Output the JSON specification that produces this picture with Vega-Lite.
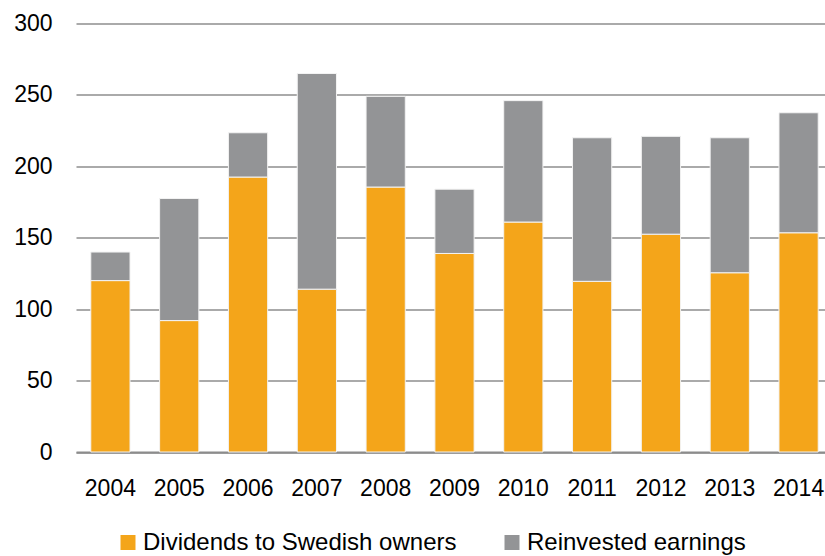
{
  "$schema": "https://vega.github.io/schema/vega-lite/v6.json",
  "autosize": {"type": "none"},
  "padding": {"left": 76, "top": 23.5, "right": 0, "bottom": 104},
  "width": 757,
  "height": 428.5,
  "background": "white",
  "data": {
    "values": [
      {"year": "2004", "series": "Dividends to Swedish owners", "value": 120},
      {"year": "2004", "series": "Reinvested earnings", "value": 20},
      {"year": "2005", "series": "Dividends to Swedish owners", "value": 92},
      {"year": "2005", "series": "Reinvested earnings", "value": 85.5},
      {"year": "2006", "series": "Dividends to Swedish owners", "value": 192.5},
      {"year": "2006", "series": "Reinvested earnings", "value": 31},
      {"year": "2007", "series": "Dividends to Swedish owners", "value": 114},
      {"year": "2007", "series": "Reinvested earnings", "value": 151},
      {"year": "2008", "series": "Dividends to Swedish owners", "value": 185.5},
      {"year": "2008", "series": "Reinvested earnings", "value": 63.5},
      {"year": "2009", "series": "Dividends to Swedish owners", "value": 139},
      {"year": "2009", "series": "Reinvested earnings", "value": 45},
      {"year": "2010", "series": "Dividends to Swedish owners", "value": 161},
      {"year": "2010", "series": "Reinvested earnings", "value": 85},
      {"year": "2011", "series": "Dividends to Swedish owners", "value": 119.5},
      {"year": "2011", "series": "Reinvested earnings", "value": 100.5},
      {"year": "2012", "series": "Dividends to Swedish owners", "value": 152.5},
      {"year": "2012", "series": "Reinvested earnings", "value": 68.5},
      {"year": "2013", "series": "Dividends to Swedish owners", "value": 125.5},
      {"year": "2013", "series": "Reinvested earnings", "value": 94.5},
      {"year": "2014", "series": "Dividends to Swedish owners", "value": 153.5},
      {"year": "2014", "series": "Reinvested earnings", "value": 84}
    ]
  },
  "config": {
    "font": "Liberation Sans",
    "view": {"stroke": null},
    "axis": {"labelFont": "Liberation Sans", "labelColor": "#000000", "labelFontSize": 23}
  },
  "mark": {"type": "bar", "stroke": "#f3f3f3", "strokeWidth": 1},
  "encoding": {
    "x": {
      "field": "year",
      "type": "ordinal",
      "title": null,
      "scale": {"paddingInner": 0.43, "paddingOuter": 0.215},
      "axis": {"labelAngle": 0, "ticks": false, "domainColor": "#8c8c8c", "domainWidth": 2, "labelPadding": 25, "labelFontSize": 23}
    },
    "y": {
      "field": "value",
      "type": "quantitative",
      "stack": "zero",
      "title": null,
      "scale": {"domain": [0, 300], "nice": false},
      "axis": {"values": [0, 50, 100, 150, 200, 250, 300], "domain": false, "ticks": false, "labelPadding": 24, "gridColor": "#8e8e8e", "gridWidth": 1.5, "gridOpacity": 1, "labelFontSize": 23}
    },
    "color": {
      "field": "series",
      "type": "nominal",
      "scale": {"domain": ["Dividends to Swedish owners", "Reinvested earnings"], "range": ["#f4a51a", "#939496"]},
      "legend": {
        "title": null,
        "orient": "none",
        "direction": "horizontal",
        "legendX": 40,
        "legendY": 507,
        "symbolType": "square",
        "symbolSize": 225,
        "symbolStrokeWidth": 0,
        "symbolOpacity": 1,
        "labelFontSize": 24,
        "labelFont": "Liberation Sans",
        "labelColor": "#000000",
        "labelOffset": 3,
        "columnPadding": 43,
        "labelLimit": 500
      }
    },
    "order": {"field": "series", "sort": "ascending"}
  }
}
